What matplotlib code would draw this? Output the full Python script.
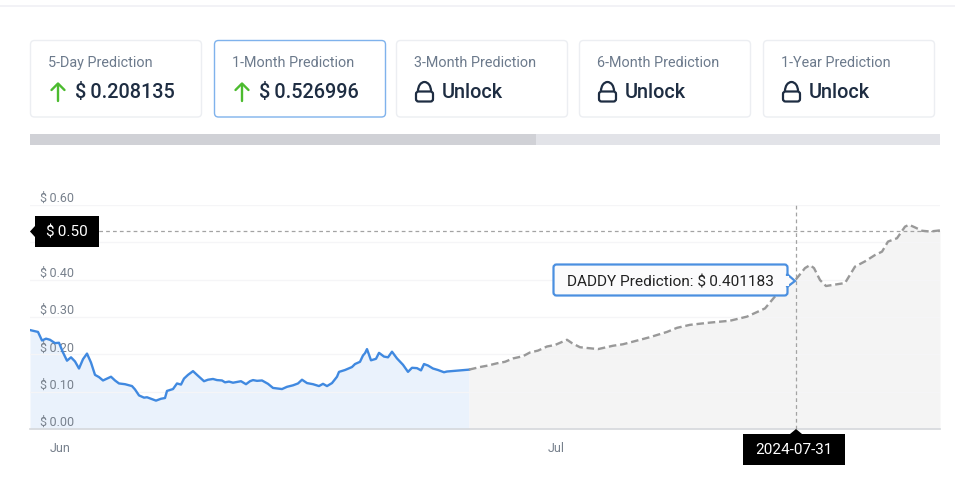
import matplotlib
matplotlib.use('Agg')
import matplotlib.pyplot as plt
from matplotlib.patches import Arc, FancyBboxPatch, Polygon, Rectangle

plt.rcParams['font.family'] = ['Roboto', 'DejaVu Sans']

hist_x = [30, 38, 42, 46, 50, 55, 59, 63, 67, 71, 75, 79, 83, 87, 91, 95, 99, 103, 107, 111,
          115, 119, 125, 132, 135, 139, 144, 147, 152, 156, 161, 165, 167, 173, 177, 181,
          184, 188, 193, 197, 204, 208, 213, 217, 222, 225, 229, 233, 241, 246, 250,
          253, 257, 262, 268, 273, 282, 287, 293, 298, 302, 307, 313, 319, 323, 327, 332,
          337, 339, 345, 352, 355, 360, 363, 365, 367, 371, 376, 379, 384, 388, 392, 397,
          403, 408, 412, 417, 421, 424, 428, 433, 438, 444, 447, 469]
hist_price = [.265, .260, .237, .242, .239, .230, .231, .205, .183, .192, .181, .162, .187,
              .202, .178, .145, .139, .130, .135, .140, .130, .122, .120, .115, .106, .090,
              .084, .085, .080, .076, .081, .083, .102, .107, .122, .119, .135, .145, .155,
              .145, .128, .132, .134, .131, .130, .125, .127, .124, .128, .120, .128,
              .131, .129, .130, .121, .110, .107, .113, .117, .122, .132, .123, .120, .115,
              .121, .115, .123, .140, .153, .158, .166, .174, .180, .197, .203, .214, .184,
              .188, .204, .194, .192, .207, .189, .172, .153, .164, .163, .157, .174, .170,
              .162, .158, .152, .154, .159]
pred_x = [469, 480, 488, 497, 505, 513, 523, 530, 538, 547, 555, 567, 572, 580, 598, 613,
          623, 633, 650, 667, 677, 690, 710, 730, 747, 765, 775, 796, 805, 810, 814, 820,
          826, 845, 855, 865, 875, 882, 888, 897, 905, 909, 915, 922, 930, 940]
pred_price = [.159, .166, .170, .176, .180, .189, .195, .205, .210, .221, .225, .239, .230,
              .219, .214, .223, .227, .234, .246, .260, .271, .279, .285, .290, .301, .323,
              .355, .401, .431, .439, .431, .399, .383, .391, .435, .449, .466, .475, .502,
              .511, .542, .547, .540, .531, .529, .532]

y_ticks = [0.0, 0.1, 0.2, 0.3, 0.4, 0.5, 0.6]
y_labels = ['$\u20090.00', '$\u20090.10', '$\u20090.20', '$\u20090.30', '$\u20090.40', '$\u20090.50', '$\u20090.60']
month_x = [60, 556]
month_labels = ['Jun', 'Jul']

card_titles = ['5-Day Prediction', '1-Month Prediction', '3-Month Prediction',
               '6-Month Prediction', '1-Year Prediction']
card_values = ['$\u20090.208135', '$\u20090.526996', 'Unlock', 'Unlock', 'Unlock']
card_left = [30, 214, 396, 579, 763]

cursor_x = 796
cursor_price = 0.53
cursor_date = '2024-07-31'
tooltip_text = 'DADDY Prediction: $\u20090.401183'

W, H = 955, 484
fig = plt.figure(figsize=(W / 100, H / 100), dpi=100, facecolor='white')

# chart, x runs along the picture from left edge to right edge
ax = fig.add_axes([30 / W, (H - 429) / H, 910 / W, 224 / H])
ax.set_xlim(30, 940)
ax.set_ylim(0, 0.6)
ax.set_facecolor('white')
for name in ['top', 'left', 'right']:
    ax.spines[name].set_visible(False)
ax.spines['bottom'].set_color('#d5d8dc')
ax.spines['bottom'].set_linewidth(1.2)

ax.set_yticks(y_ticks)
ax.set_yticklabels(y_labels)
ax.tick_params(axis='y', length=0, pad=-7, labelsize=9, labelcolor='#77808c')
for label in ax.get_yticklabels():
    label.set_horizontalalignment('left')
    label.set_verticalalignment('bottom')
# the price tag sits over this one
ax.get_yticklabels()[5].set_visible(False)
ax.set_xticks(month_x)
ax.set_xticklabels(month_labels)
ax.tick_params(axis='x', length=0, pad=9, labelsize=9, labelcolor='#77808c')
ax.grid(axis='y', color='#f5f5f7', linewidth=0.9)
ax.set_axisbelow('line')

ax.fill_between(hist_x, hist_price, 0, color='#eaf2fc', linewidth=0, zorder=1)
ax.fill_between(pred_x, pred_price, 0, color='#f4f4f4', linewidth=0, zorder=1)
ax.plot(hist_x, hist_price, color='#4089e0', linewidth=1.7, zorder=4, solid_joinstyle='round')
ax.plot(pred_x, pred_price, color='#999999', linewidth=1.7, zorder=4, dashes=(3.2, 1.6))
ax.axvline(cursor_x, color='#a3a3a3', linewidth=0.9, dashes=(3, 2.5), zorder=3)
ax.axhline(cursor_price, color='#a3a3a3', linewidth=0.9, dashes=(3, 2.5), zorder=3)

# page furniture on top, in picture pixels
ui = fig.add_axes([0, 0, 1, 1], zorder=10)
ui.set_xlim(0, W)
ui.set_ylim(H, 0)
ui.axis('off')
ui.patch.set_alpha(0)

ui.add_patch(Rectangle((0, 5), W, 1.5, color='#f2f2f6', linewidth=0))
ui.add_patch(Rectangle((30, 134), 910, 11, color='#e2e3e8', linewidth=0))
ui.add_patch(Rectangle((30, 134), 506, 11, color='#d0d1d6', linewidth=0))


def draw_lock(x):
    ink = '#1e2d42'
    ui.add_patch(FancyBboxPatch((x + 1, 91.5), 17, 10, boxstyle='round,pad=0,rounding_size=2.5',
                                fc='none', ec=ink, lw=1.6))
    ui.add_patch(Arc((x + 9.5, 91), 13, 18, theta1=180, theta2=360, ec=ink, lw=1.6))


def draw_arrow(x):
    green = '#4cbb2f'
    ui.plot([x, x], [83.5, 101], color=green, lw=1.7, solid_capstyle='round')
    ui.plot([x - 6.5, x, x + 6.5], [90, 83.5, 90], color=green, lw=1.7, solid_capstyle='round')


for i, left in enumerate(card_left):
    selected = i == 1
    ui.add_patch(FancyBboxPatch((left + 0.5, 40.5), 171, 76.5, boxstyle='round,pad=0,rounding_size=4',
                                fc='white', ec='#7fb2ec' if selected else '#eceef2', lw=1.0))
    ui.text(left + 18, 63, card_titles[i], fontsize=10.35, color='#6c7a8c', va='center', ha='left')
    if card_values[i] == 'Unlock':
        draw_lock(left + 19)
        ui.text(left + 46, 92.5, card_values[i], fontsize=14.3, color='#1e2d42', va='center',
                ha='left', fontweight='medium')
    else:
        draw_arrow(left + 28)
        ui.text(left + 45, 92.5, card_values[i], fontsize=14.3, color='#1e2d42', va='center',
                ha='left', fontweight='medium')

# price tag on the left
ui.add_patch(Rectangle((35, 216), 64, 31, color='black', linewidth=0))
ui.add_patch(Polygon([(30, 231.5), (35, 226), (35, 237)], color='black', linewidth=0))
ui.text(67, 232.5, y_labels[5], color='white', fontsize=11, ha='center', va='center')

# date tag
ui.add_patch(Rectangle((743, 434), 102, 31, color='black', linewidth=0))
ui.add_patch(Polygon([(cursor_x, 429), (cursor_x - 6, 434), (cursor_x + 6, 434)], color='black', linewidth=0))
ui.text(794, 449.5, cursor_date, color='white', fontsize=11, ha='center', va='center')

# tooltip
ui.add_patch(FancyBboxPatch((553.5, 264.5), 234, 31, boxstyle='round,pad=0,rounding_size=3',
                            fc='#fbfbfc', ec='#4a8fe0', lw=1.6, zorder=5))
ui.add_patch(Polygon([(787, 274), (795, 281), (787, 287)], fc='#fbfbfc', ec='#4a8fe0', lw=1.6, zorder=5))
ui.add_patch(Rectangle((785, 275.5), 3.5, 10.5, fc='#fbfbfc', linewidth=0, zorder=6))
ui.text(567, 282.5, tooltip_text, color='#222222', fontsize=11.1, ha='left', va='center', zorder=7)

fig.savefig('out.png', dpi=100)
